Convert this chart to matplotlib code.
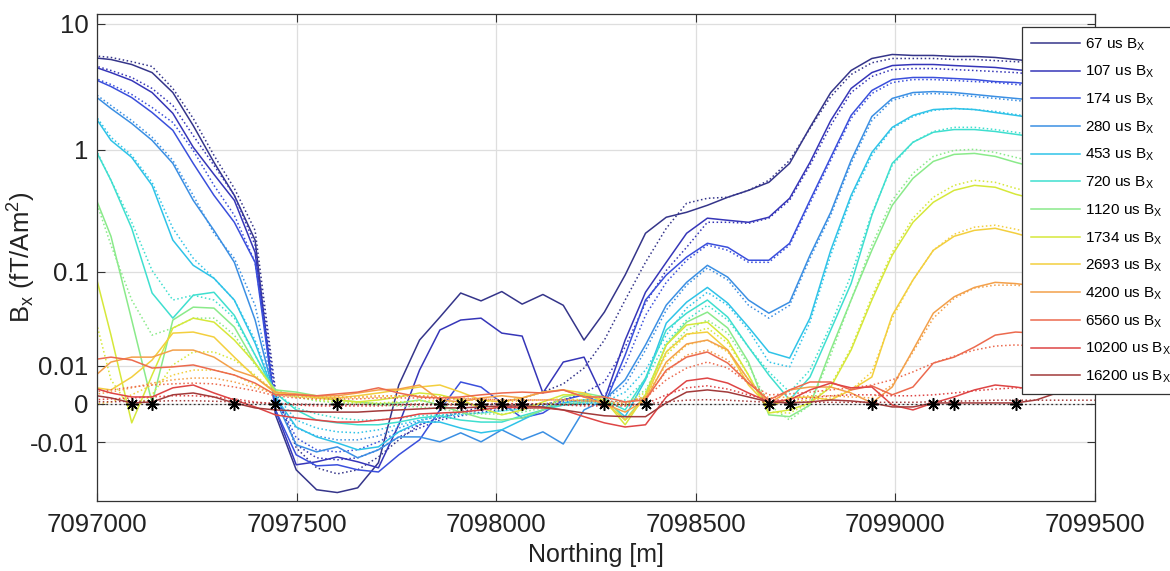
import numpy as np
import matplotlib
matplotlib.use("Agg")
import matplotlib.pyplot as plt

plt.rcParams['font.family'] = ['Liberation Sans', 'DejaVu Sans']
plt.rcParams['mathtext.fontset'] = 'custom'
plt.rcParams['mathtext.rm'] = 'Liberation Sans'
plt.rcParams['mathtext.it'] = 'Liberation Sans:italic'

# ---------------- data ----------------
northing = [7096984, 7097035, 7097087, 7097138, 7097190, 7097241, 7097293, 7097344, 7097396, 7097447,
            7097499, 7097550, 7097602, 7097653, 7097705, 7097756, 7097808, 7097859, 7097911, 7097962,
            7098014, 7098065, 7098117, 7098168, 7098220, 7098271, 7098323, 7098374, 7098426, 7098477,
            7098529, 7098580, 7098632, 7098683, 7098735, 7098786, 7098838, 7098889, 7098941, 7098992,
            7099044, 7099095, 7099147, 7099198, 7099250, 7099301, 7099353, 7099404, 7099456, 7099507]

gate_times = [67, 107, 174, 280, 453, 720, 1120, 1734, 2693, 4200, 6560, 10200, 16200]

obs_67 = [5.4, 5.2, 4.75, 4.1, 2.85, 1.56, 0.795, 0.432, 0.186, -0.0022, -0.0231, -0.0375, -0.040, -0.0359, -0.0191,
          0.0041, 0.0219, 0.0384, 0.065, 0.055, 0.067, 0.0513, 0.063, 0.050, 0.0219, 0.043, 0.094, 0.212, 0.287, 0.315,
          0.359, 0.417, 0.474, 0.55, 0.78, 1.51, 2.85, 4.26, 5.3, 5.7, 5.6, 5.6, 5.5, 5.5, 5.4, 5.2, 5.0, 4.9, 4.8, 4.75]
mod_67 = [5.6, 5.4, 5.0, 4.58, 3.07, 1.78, 0.904, 0.492, 0.224, 0.0029, -0.0122, -0.0219, -0.0256, -0.0231, -0.0162,
          -0.0092, -0.0046, -0.0029, -0.0016, -0.00056, 0.00037, 0.00115, 0.0024, 0.0044, 0.0092, 0.0219, 0.056, 0.121,
          0.233, 0.373, 0.409, 0.417, 0.474, 0.571, 0.824, 1.48, 2.65, 3.96, 4.9, 5.3, 5.3, 5.3, 5.2, 5.2, 5.1, 5.0, 4.9,
          4.8, 4.75, 4.66]

obs_107 = [4.66, 4.1, 3.55, 2.85, 1.95, 1.05, 0.637, 0.394, 0.147, -0.00115, -0.0202, -0.0186, -0.0162, -0.0186, -0.0219,
           -0.0046, 0.0085, 0.0283, 0.0359, 0.0375, 0.0262, 0.0243, 0.0022, 0.0114, 0.0134, 0.00075, 0.0219, 0.066, 0.121,
           0.212, 0.282, 0.271, 0.261, 0.287, 0.409, 0.795, 1.71, 3.07, 4.1, 4.66, 4.75, 4.75, 4.66, 4.58, 4.5, 4.33, 4.18,
           4.1, 3.96, 3.89]
mod_107 = [4.75, 4.26, 3.75, 3.07, 2.25, 1.3, 0.752, 0.432, 0.169, 0.0018, -0.011, -0.0166, -0.0176, -0.0166, -0.013,
           -0.0082, -0.0055, -0.0034, -0.0024, -0.0016, -0.00115, -0.00075, -0.0002, 0.00075, 0.0022, 0.0049, 0.0181,
           0.0524, 0.103, 0.162, 0.261, 0.261, 0.256, 0.282, 0.394, 0.752, 1.56, 2.85, 3.82, 4.33, 4.41, 4.41, 4.33, 4.26,
           4.18, 4.1, 3.96, 3.89, 3.75, 3.68]

obs_174 = [3.75, 3.18, 2.6, 1.98, 1.43, 0.78, 0.432, 0.261, 0.121, -0.00115, -0.0152, -0.0208, -0.0202, -0.0231, -0.0244,
           -0.0152, -0.0092, -0.00115, 0.0049, 0.0036, 0.00018, -0.0029, -0.0018, 0.00075, 0.0018, -0.0002, 0.0143, 0.056,
           0.094, 0.134, 0.175, 0.162, 0.126, 0.126, 0.175, 0.394, 0.871, 1.88, 2.96, 3.61, 3.75, 3.75, 3.68, 3.61, 3.48,
           3.42, 3.3, 3.24, 3.12, 3.07]
mod_174 = [3.82, 3.3, 2.75, 2.17, 1.65, 0.99, 0.52, 0.298, 0.121, 0.0018, -0.0085, -0.013, -0.0139, -0.013, -0.0099,
           -0.0066, -0.0046, -0.0029, -0.0018, -0.00115, -0.00075, -0.00037, 0.0, 0.00037, 0.00075, 0.0016, 0.0103, 0.040,
           0.081, 0.126, 0.169, 0.153, 0.121, 0.121, 0.169, 0.373, 0.824, 1.78, 2.8, 3.42, 3.61, 3.61, 3.55, 3.48, 3.42,
           3.3, 3.24, 3.12, 3.07, 2.96]

obs_280 = [2.85, 2.13, 1.62, 1.19, 0.78, 0.394, 0.224, 0.121, 0.036, 0.00075, -0.011, -0.0139, -0.0118, -0.0166, -0.013,
           -0.0082, -0.0082, -0.0099, -0.0069, -0.0099, -0.006, -0.0092, -0.0066, -0.0107, -0.00115, 0.00075, 0.0055,
           0.0192, 0.0502, 0.081, 0.114, 0.09, 0.056, 0.042, 0.0535, 0.139, 0.315, 0.824, 1.84, 2.56, 2.85, 2.9, 2.85,
           2.75, 2.65, 2.56, 2.47, 2.38, 2.29, 2.21]
mod_280 = [2.96, 2.25, 1.71, 1.26, 0.824, 0.432, 0.212, 0.131, 0.050, 0.00075, -0.0055, -0.0079, -0.0092, -0.0092, -0.0079,
           -0.0055, -0.0036, -0.0024, -0.0016, -0.00115, -0.00075, -0.00056, -0.00037, -0.0002, 0.0, 0.00075, 0.0041,
           0.0166, 0.045, 0.0765, 0.108, 0.085, 0.050, 0.0375, 0.050, 0.131, 0.298, 0.78, 1.71, 2.47, 2.75, 2.8, 2.75,
           2.65, 2.56, 2.47, 2.38, 2.29, 2.21, 2.13]

obs_453 = [2.06, 1.19, 0.871, 0.52, 0.186, 0.114, 0.088, 0.056, 0.0202, 0.00135, -0.0052, -0.0082, -0.0103, -0.013, -0.0118,
           -0.0066, -0.0039, -0.0039, -0.0055, -0.0069, -0.006, -0.0034, -0.00115, 0.00018, 0.00075, 0.00075, -0.0026,
           0.0055, 0.0334, 0.0535, 0.073, 0.0524, 0.0304, 0.0157, 0.013, 0.0375, 0.153, 0.432, 0.954, 1.51, 1.88, 2.09,
           2.13, 2.09, 1.98, 1.88, 1.78, 1.68, 1.59, 1.51]
mod_453 = [2.13, 1.26, 0.904, 0.55, 0.233, 0.131, 0.088, 0.056, 0.0219, 0.0018, -0.0034, -0.0055, -0.0066, -0.0069, -0.006,
           -0.0046, -0.0034, -0.0026, -0.0022, -0.0018, -0.00135, -0.00095, -0.00056, -0.0002, 0.0, 0.00037, 0.0024,
           0.0085, 0.0249, 0.047, 0.066, 0.050, 0.0283, 0.0114, 0.0096, 0.0342, 0.139, 0.409, 0.904, 1.48, 1.84, 2.06,
           2.13, 2.09, 2.02, 1.91, 1.81, 1.71, 1.62, 1.54]

obs_720 = [1.19, 0.571, 0.233, 0.065, 0.0375, 0.062, 0.066, 0.040, 0.0143, 0.0022, -0.00115, -0.0034, -0.0041, -0.0046,
           -0.0046, -0.0039, -0.0029, -0.0024, -0.0034, -0.0039, -0.0039, -0.0024, -0.00115, -0.0002, 0.00037, 0.00075,
           -0.00115, 0.006, 0.0283, 0.042, 0.056, 0.0384, 0.0181, 0.0069, 0.00075, 0.0063, 0.0283, 0.079, 0.298, 0.78,
           1.15, 1.38, 1.45, 1.45, 1.4, 1.33, 1.26, 1.19, 1.13, 1.06]
mod_720 = [1.23, 0.571, 0.261, 0.103, 0.056, 0.062, 0.056, 0.0375, 0.0143, 0.0022, -0.00075, -0.002, -0.0029, -0.0034,
           -0.0034, -0.0029, -0.0024, -0.0022, -0.002, -0.0018, -0.00135, -0.00095, -0.00056, -0.0002, 0.0, 0.00018,
           0.00075, 0.0055, 0.0207, 0.0359, 0.050, 0.0359, 0.0181, 0.0079, 0.0024, 0.0085, 0.0319, 0.094, 0.309, 0.752,
           1.15, 1.4, 1.51, 1.51, 1.45, 1.38, 1.3, 1.23, 1.17, 1.1]

obs_1120 = [0.52, 0.2, 0.0359, 0.00018, 0.0359, 0.048, 0.047, 0.0304, 0.011, 0.0029, 0.0024, 0.0016, 0.00075, 0.00037, 0.0,
            0.00018, 0.00075, -0.0002, -0.0016, -0.0029, -0.0034, -0.0029, -0.00115, 0.00135, 0.0022, 0.00135, -0.0034,
            0.0018, 0.0192, 0.0342, 0.043, 0.0297, 0.0114, -0.0022, -0.0026, -0.0002, 0.0166, 0.056, 0.153, 0.359, 0.592,
            0.809, 0.92, 0.937, 0.887, 0.795, 0.72, 0.66, 0.625, 0.592]
mod_1120 = [0.52, 0.169, 0.056, 0.0249, 0.0297, 0.0375, 0.0375, 0.0249, 0.0103, 0.0029, 0.00135, 0.00056, 0.00018, 0.0,
            -0.0002, -0.00037, -0.00056, -0.00095, -0.0016, -0.002, -0.002, -0.0016, -0.00075, 0.0, 0.00037, 0.00037, 0.0,
            0.0029, 0.0157, 0.0283, 0.0359, 0.0262, 0.0103, -0.0002, -0.0034, -0.0002, 0.0143, 0.056, 0.169, 0.394, 0.649,
            0.887, 0.99, 1.01, 0.954, 0.871, 0.795, 0.73, 0.686, 0.637]

obs_1734 = [0.139, 0.0249, -0.0041, 0.0069, 0.0297, 0.0375, 0.0342, 0.0219, 0.011, 0.0024, 0.0018, 0.00115, 0.00075,
            0.00037, 0.00075, 0.00135, 0.0022, 0.0018, 0.00075, -0.00075, -0.0022, -0.00115, 0.00037, 0.0018, 0.0018,
            0.00075, -0.0046, 0.0018, 0.0192, 0.0319, 0.0342, 0.0219, 0.0069, -0.0018, -0.00115, 0.00018, 0.0036, 0.0166,
            0.056, 0.139, 0.261, 0.38, 0.474, 0.52, 0.502, 0.441, 0.401, 0.366, 0.338, 0.315]
mod_1734 = [0.056, 0.0055, -0.00115, 0.0018, 0.0103, 0.0157, 0.0157, 0.0122, 0.0069, 0.0024, 0.00135, 0.00075, 0.00037,
            0.00018, 0.00018, 0.00037, 0.00056, 0.00056, 0.00018, -0.00037, -0.00075, -0.00056, 0.0, 0.00056, 0.00075,
            0.00037, -0.00037, 0.0024, 0.0143, 0.0249, 0.0297, 0.0202, 0.0069, -0.0016, -0.0018, 0.00018, 0.0041, 0.0176,
            0.060, 0.147, 0.282, 0.417, 0.52, 0.571, 0.55, 0.492, 0.45, 0.409, 0.38, 0.352]

obs_2693 = [0.0036, 0.0029, 0.0063, 0.0122, 0.0262, 0.0269, 0.0237, 0.0134, 0.0063, 0.0022, 0.0018, 0.00135, 0.00115,
            0.0016, 0.0022, 0.0029, 0.0036, 0.0041, 0.0024, 0.00075, 0.00037, 0.00115, 0.0024, 0.0029, 0.0022, 0.00037,
            -0.0034, 0.00115, 0.0157, 0.0256, 0.0269, 0.0166, 0.0041, -0.00056, 0.00115, 0.00135, 0.00075, 0.0029, 0.0063,
            0.040, 0.085, 0.153, 0.2, 0.224, 0.233, 0.212, 0.19, 0.175, 0.162, 0.147]
mod_2693 = [-0.0002, 0.00037, 0.0018, 0.0041, 0.0069, 0.0085, 0.0085, 0.0069, 0.0041, 0.0018, 0.00135, 0.00115, 0.00115,
            0.00115, 0.00135, 0.0016, 0.0016, 0.00135, 0.00095, 0.00056, 0.00037, 0.00056, 0.00075, 0.00095, 0.00075,
            0.00037, 0.0, 0.0016, 0.0103, 0.0192, 0.0219, 0.0157, 0.0055, 0.00018, 0.00037, 0.00075, 0.00115, 0.0029,
            0.0079, 0.0375, 0.085, 0.153, 0.208, 0.238, 0.247, 0.229, 0.208, 0.19, 0.18, 0.165]

obs_4200 = [0.0055, 0.0114, 0.0134, 0.0134, 0.0166, 0.0166, 0.0134, 0.0085, 0.0063, 0.0024, 0.002, 0.0016, 0.0016, 0.0022,
            0.0029, 0.0031, 0.0041, 0.00075, 0.00037, 0.00115, 0.0016, 0.00115, 0.0024, 0.0029, 0.00135, 0.0, -0.0016,
            0.00075, 0.0114, 0.0197, 0.0219, 0.0166, 0.0055, 0.0, 0.0029, 0.0036, 0.0036, 0.0022, 0.00018, 0.0036, 0.0166,
            0.042, 0.060, 0.073, 0.081, 0.079, 0.075, 0.072, 0.069, 0.066]
mod_4200 = [0.0018, 0.0024, 0.0034, 0.0046, 0.0055, 0.006, 0.006, 0.0049, 0.0034, 0.002, 0.0016, 0.00135, 0.00135,
            0.00135, 0.0016, 0.0016, 0.0016, 0.00135, 0.00115, 0.00095, 0.00075, 0.00075, 0.00075, 0.00075, 0.00056,
            0.00037, 0.00018, 0.00135, 0.0079, 0.0143, 0.0166, 0.0122, 0.0046, 0.00115, 0.00135, 0.0016, 0.0016, 0.00135,
            0.00115, 0.0041, 0.0157, 0.0375, 0.058, 0.072, 0.0765, 0.0765, 0.073, 0.071, 0.067, 0.065]

obs_6560 = [0.0122, 0.0134, 0.0122, 0.0092, 0.0096, 0.0103, 0.0085, 0.0069, 0.0046, 0.0018, 0.0018, 0.0016, 0.002, 0.0024,
            0.0034, 0.0022, 0.00135, 0.00115, 0.00135, 0.0018, 0.0022, 0.0024, 0.0022, 0.0029, 0.00135, 0.00135, 0.00037,
            0.00075, 0.0085, 0.0134, 0.0157, 0.011, 0.0046, 0.00075, 0.0029, 0.0049, 0.0049, 0.0029, 0.0039, 0.0018,
            0.0036, 0.011, 0.0134, 0.0181, 0.0249, 0.0269, 0.0262, 0.0249, 0.0243, 0.0237]
mod_6560 = [0.0024, 0.0029, 0.0036, 0.0041, 0.0044, 0.0046, 0.0044, 0.0036, 0.0027, 0.0016, 0.00115, 0.00095, 0.00095,
            0.00095, 0.00115, 0.00115, 0.00115, 0.00095, 0.00095, 0.00095, 0.00075, 0.00075, 0.00075, 0.00075, 0.00056,
            0.00056, 0.00037, 0.00115, 0.0055, 0.0092, 0.0114, 0.0092, 0.0046, 0.0018, 0.002, 0.0024, 0.0029, 0.0034,
            0.0041, 0.0055, 0.0079, 0.011, 0.0138, 0.0166, 0.0186, 0.0192, 0.0186, 0.0176, 0.0166, 0.0157]

obs_10200 = [0.0036, 0.0022, 0.00135, 0.00135, 0.0034, 0.0041, 0.0022, 0.00075, -0.00056, -0.0022, -0.0029, -0.0034,
             -0.0039, -0.0039, -0.0034, -0.0029, -0.002, -0.0018, -0.0016, -0.00115, -0.00056, -0.00075, -0.00075,
             -0.00115, -0.0026, -0.0041, -0.0052, -0.0046, 0.00135, 0.0052, 0.006, 0.0046, 0.0022, 0.00037, 0.00075,
             0.0029, 0.0046, 0.0034, 0.0036, -0.0002, -0.00115, 0.00018, 0.00135, 0.0029, 0.0041, 0.0036, 0.0029, 0.0041,
             0.0055, 0.0063]
mod_10200 = [0.00075, 0.00095, 0.00115, 0.00135, 0.0016, 0.0016, 0.00135, 0.00095, 0.00037, 0.0, -0.0002, -0.00037,
             -0.00037, -0.00037, -0.00037, -0.0002, -0.0002, -0.0002, -0.0002, -0.0002, 0.0, 0.0, 0.0, -0.0002, -0.00037,
             -0.00037, -0.00037, 0.0, 0.0018, 0.0034, 0.0039, 0.0031, 0.0018, 0.00075, 0.00075, 0.00115, 0.0016, 0.0018,
             0.0018, 0.0016, 0.0016, 0.0018, 0.0022, 0.0027, 0.0031, 0.0034, 0.0034, 0.0031, 0.0029, 0.0029]

obs_16200 = [0.0018, 0.00115, 0.00018, 0.00037, 0.0018, 0.0022, 0.00135, 0.00018, -0.00075, -0.00115, -0.00135, -0.0016,
             -0.0016, -0.0016, -0.00135, -0.00115, -0.00095, -0.00075, -0.00075, -0.00056, -0.00037, -0.00037, -0.00056,
             -0.00115, -0.0018, -0.0024, -0.0026, -0.0026, 0.00018, 0.0024, 0.0029, 0.0024, 0.00135, 0.00037, 0.00018,
             0.00037, 0.00075, 0.00056, 0.00018, -0.00056, -0.00056, 0.00018, 0.00018, 0.00018, 0.00018, 0.00018,
             0.00075, 0.0022, 0.0029, 0.0036]
mod_16200 = [0.0004, 0.0004, 0.0005, 0.0005, 0.0006, 0.0006, 0.0005, 0.0004, 0.0002, 0.0001, 0.0, -0.0001, -0.0001,
             -0.0001, -0.0001, -0.0001, 0.0, 0.0, 0.0, 0.0, 0.0, 0.0, 0.0, -0.0001, -0.0001, -0.0001, -0.0001, 0.0, 0.0004,
             0.0007, 0.0008, 0.0007, 0.0005, 0.0003, 0.0003, 0.0003, 0.0003, 0.0003, 0.0003, 0.0003, 0.0003, 0.0004,
             0.0005, 0.0006, 0.0007, 0.0007, 0.0007, 0.0007, 0.0007, 0.0007]

zero_crossings = [7097087, 7097138, 7097344, 7097447, 7097602, 7097859, 7097911, 7097962, 7098014, 7098065,
                  7098271, 7098374, 7098683, 7098735, 7098941, 7099095, 7099147, 7099301]

colors = ['#35358a', '#3636b8', '#3a4fdc', '#3b8fe3', '#2fc3e8', '#3fdfcf', '#8aea8a',
          '#d6e83a', '#f3cf3e', '#f3a04a', '#ec6a4e', '#de4545', '#a23a3a']

observed = [obs_67, obs_107, obs_174, obs_280, obs_453, obs_720, obs_1120, obs_1734, obs_2693,
            obs_4200, obs_6560, obs_10200, obs_16200]
modelled = [mod_67, mod_107, mod_174, mod_280, mod_453, mod_720, mod_1120, mod_1734, mod_2693,
            mod_4200, mod_6560, mod_10200, mod_16200]

for i, (o, m) in enumerate(zip(observed, modelled)):
    assert len(o) == len(northing), f"obs {gate_times[i]} has {len(o)}"
    assert len(m) == len(northing), f"mod {gate_times[i]} has {len(m)}"

# ---------------- scale ----------------
C = 0.01


def fwd(y):
    y = np.asarray(y, dtype=float)
    return np.sign(y) * np.log10(1.0 + np.abs(y) / C)


def inv(t):
    t = np.asarray(t, dtype=float)
    return np.sign(t) * C * (10.0 ** np.abs(t) - 1.0)


# ---------------- figure ----------------
W, H = 1170, 571
fig = plt.figure(figsize=(W / 100, H / 100), dpi=100)
ax = fig.add_axes([97 / W, 1 - 501 / H, (1095 - 97) / W, (501 - 14) / H])
ax.set_yscale('function', functions=(fwd, inv))

handles = []
for t, o, m, c in zip(gate_times, observed, modelled, colors):
    h, = ax.plot(northing, o, '-', color=c, lw=1.1, label=f'{t} us B$_\\mathregular{{X}}$')
    ax.plot(northing, m, ':', color=c, lw=1.1)
    handles.append(h)

ax.axhline(0, color='#333333', lw=0.9, ls=(0, (1.5, 2.0)), zorder=3)
ax.plot(zero_crossings, [0] * len(zero_crossings), ls='none', marker=(8, 2, 0), ms=9,
        mec='black', mew=1.1, color='black', zorder=5)

ax.set_xlim(7097000, 7099500)
ax.set_ylim(-0.0483, 11.9)

yt = [-0.01, 0, 0.01, 0.1, 1, 10]
ax.set_yticks(yt)
ax.set_yticklabels(['-0.01', '0', '0.01', '0.1', '1', '10'])
xt = [7097000, 7097500, 7098000, 7098500, 7099000, 7099500]
ax.set_xticks(xt)
ax.set_xticklabels([str(v) for v in xt])
ax.minorticks_off()

ax.grid(True, color='#dedede', lw=0.9)
ax.set_axisbelow(True)
ax.tick_params(which='both', direction='in', top=True, right=True, length=6, width=0.8,
               color='#333333', labelsize=18.5, labelcolor='#222222')
ax.tick_params(axis='x', pad=9)
ax.tick_params(axis='y', pad=6)
for s in ax.spines.values():
    s.set_color('#333333')
    s.set_linewidth(0.9)

ax.set_xlabel('Northing [m]', fontsize=18, color='#222222', labelpad=4)
ax.set_ylabel('B$_\\mathregular{x}$ (fT/Am$^\\mathregular{2}$)', fontsize=18.5, color='#222222')
ax.yaxis.set_label_coords((38 - 97) / 998, 0.5)

leg = ax.legend(handles=handles, loc='upper left', bbox_to_anchor=(1022 / W, 1 - 27 / H),
                bbox_transform=fig.transFigure, borderaxespad=0, fontsize=11, frameon=True,
                fancybox=False, framealpha=1, edgecolor='#333333', handlelength=3.2,
                handletextpad=0.3, labelspacing=0.74, borderpad=0.6)
leg.get_frame().set_linewidth(0.9)

fig.savefig('out.png', dpi=100)
